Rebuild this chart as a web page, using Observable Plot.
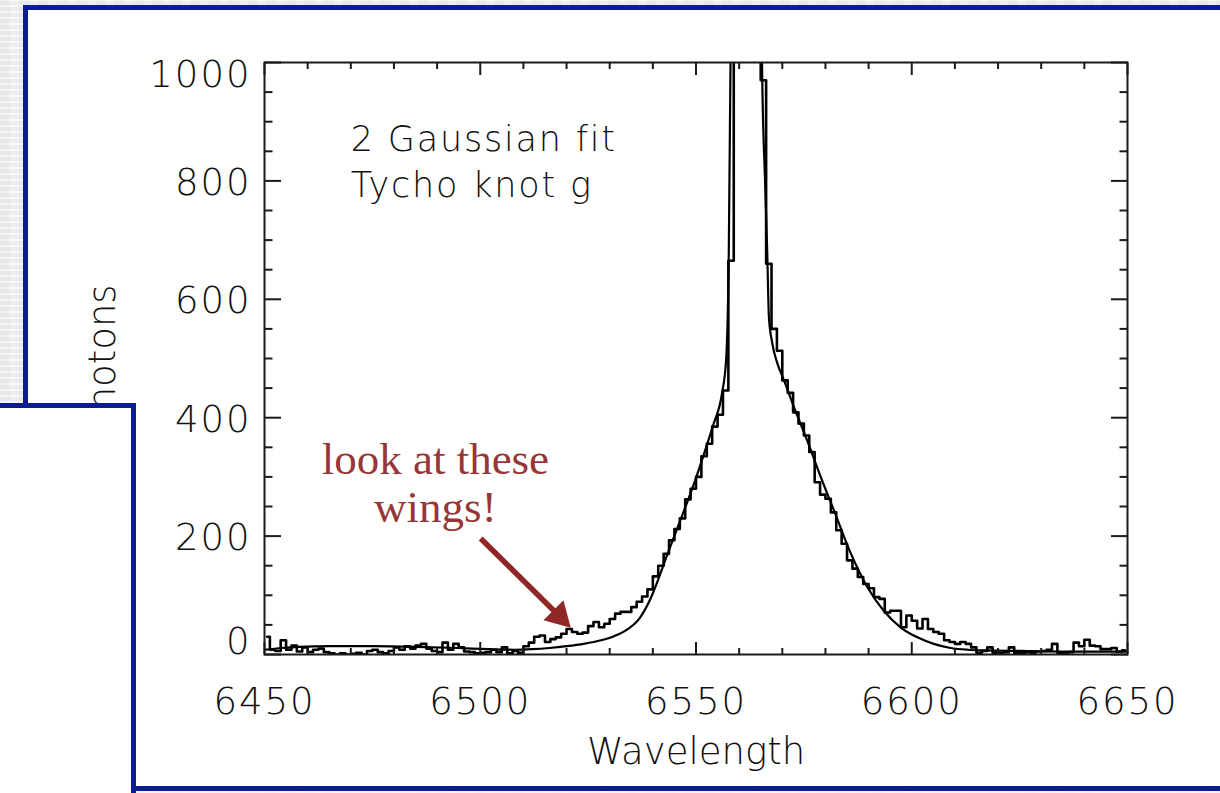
<!DOCTYPE html>
<html>
<head>
<meta charset="utf-8">
<script src="https://cdn.jsdelivr.net/npm/d3@7"></script>
<script src="https://cdn.jsdelivr.net/npm/@observablehq/plot@0.6"></script>
<style>
html, body { margin: 0; padding: 0; }
body {
  width: 1220px; height: 793px; overflow: hidden; position: relative;
  background-color: #ededed;
  background-image:
    repeating-linear-gradient(0deg, rgba(255,255,255,0.55) 0 2px, rgba(255,255,255,0) 2px 6px),
    repeating-linear-gradient(90deg, rgba(0,0,0,0.025) 0 11px, rgba(255,255,255,0.08) 11px 19px);
}
#box1 { position: absolute; left: 23px; top: 5px; width: 1230px; height: 776px; background: #fff; border: 5px solid #0c1c92; }
#box2 { position: absolute; left: -10px; top: 403px; width: 136px; height: 420px; background: #fff; border: 5px solid #0c1c92; z-index: 3; }
#chart { position: absolute; left: 0; top: 0; z-index: 2; }
#chart svg g[font-size="35"] text { letter-spacing: 1.8px; }
#chart svg g[aria-label="x-axis tick label"] text,
#chart svg g[aria-label="y-axis tick label"] text { letter-spacing: 2px; }
</style>
</head>
<body>
<div id="box1"></div>
<div id="chart"></div>
<div id="box2"></div>
<script>
// ---- data ----
const binStart = 6450;      // Å, left edge of first bin
const binWidth = 1.25;      // Å
const counts = [
  30, 8, 6, 24, 8, 15, 5, 12, 4, 8,
  10, 4, 2, 0, 2, 0, 1, 3, 0, 6,
  8, 4, 2, 6, 12, 8, 14, 10, 15, 18,
  10, 6, 4, 20, 8, 18, 12, 5, 4, 2,
  3, 4, 8, 4, 12, 2, 6, 3, 14, 20,
  30, 32, 21, 26, 29, 35, 43, 38, 35, 37,
  48, 55, 46, 52, 60, 69, 72, 72, 80, 89,
  98, 110, 132, 150, 170, 193, 212, 230, 262, 280,
  300, 335, 356, 385, 405, 446, 665, 2500, 3500, 3800,
  3000, 2000, 970, 660, 550, 513, 463, 442, 409, 390,
  370, 342, 291, 270, 263, 240, 210, 187, 159, 145,
  131, 119, 112, 97, 94, 71, 74, 74, 46, 66,
  57, 44, 60, 43, 38, 35, 24, 21, 18, 21,
  18, 12, 3, 6, 12, 3, 2, 4, 12, 3,
  2, 4, 3, 5, 6, 8, 18, 3, 2, 4,
  20, 14, 25, 15, 14, 9, 9, 11, 5, 7
];
const fitWave = [6450,6454,6458,6465,6475,6485,6495,6502,6508,6512,
  6516,6520,6524,6528,6531,6534,6537,6539.5,6541,6543.3,
  6545.6,6548,6550,6552,6554,6556,6557,6557.6,6558,6558.5,
  6560,6562,6564,6565.3,6566,6566.5,6566.9,6567.7,6568.9,6570.4,
  6572.7,6575.8,6578.9,6582,6585.8,6589.7,6593.5,6597.4,6601.3,6605.1,
  6609,6613,6617,6625,6635,6650];
const fitPhotons = [8,11,13,14,14,13,11,9,8,9,
  11,14,18,24,31,42,62,95,122,168,
  212,258,298,342,388,440,500,680,1000,1600,
  2800,3200,2600,1000,800,682,570,525,491,463,
  418,361,300,243,172,114,74,46,29,18,
  11,8,7,6,5,5];
const xMajor = [6450, 6500, 6550, 6600, 6650];
const xMinor = [6460,6470,6480,6490,6510,6520,6530,6540,6560,6570,6580,6590,6610,6620,6630,6640];
const yMajor = [0, 200, 400, 600, 800, 1000];
const yMinor = [50,100,150,250,300,350,450,500,550,650,700,750,850,900,950];
const xTitle = "Wavelength";
const yTitle = "Photons";
const noteText = "2 Gaussian fit\nTycho knot g";
const wingText = "look at these\nwings!";

const hist = counts.map((c, i) => ({wave: binStart + binWidth * (i + 0.5), photons: c}));
const fit = fitWave.map((w, i) => ({wave: w, photons: fitPhotons[i]}));

const ink = "#1a1a1a";
const red = "#8f2727";
const noLab = {label: null, tickFormat: () => ""};

const chart = Plot.plot({
  width: 1220, height: 793,
  marginLeft: 264, marginRight: 93, marginTop: 62, marginBottom: 139,
  x: {domain: [6450, 6650]},
  y: {domain: [0, 1000]},
  style: {background: "transparent", fontFamily: "'DejaVu Sans', sans-serif", fontSize: "37px", fontWeight: "200", color: "#111", overflow: "visible"},
  marks: [
    Plot.line(hist, {x: "wave", y: "photons", curve: "step", stroke: "#000", strokeWidth: 2.6, clip: true}),
    Plot.line(fit, {x: "wave", y: "photons", curve: "monotone-x", stroke: "#000", strokeWidth: 2.2, clip: true}),
    Plot.frame({stroke: ink, strokeWidth: 2}),
    // inward ticks on all four sides
    Plot.axisX(xMajor, {anchor: "bottom", tickSize: -12, strokeWidth: 2, stroke: ink, ...noLab}),
    Plot.axisX(xMinor, {anchor: "bottom", tickSize: -6, strokeWidth: 2, stroke: ink, ...noLab}),
    Plot.axisX(xMajor, {anchor: "top", tickSize: -12, strokeWidth: 2, stroke: ink, ...noLab}),
    Plot.axisX(xMinor, {anchor: "top", tickSize: -6, strokeWidth: 2, stroke: ink, ...noLab}),
    Plot.axisY(yMajor, {anchor: "left", tickSize: -17, strokeWidth: 2, stroke: ink, ...noLab}),
    Plot.axisY(yMinor, {anchor: "left", tickSize: -8.5, strokeWidth: 2, stroke: ink, ...noLab}),
    Plot.axisY(yMajor, {anchor: "right", tickSize: -17, strokeWidth: 2, stroke: ink, ...noLab}),
    Plot.axisY(yMinor, {anchor: "right", tickSize: -8.5, strokeWidth: 2, stroke: ink, ...noLab}),
    // tick labels
    Plot.axisX(xMajor, {anchor: "bottom", tickSize: 0, tickPadding: 33, label: null, tickFormat: d => String(d), fill: "#111"}),
    Plot.axisY(yMajor.slice(1, 5), {anchor: "left", tickSize: 0, tickPadding: 13, label: null, tickFormat: d => String(d), fill: "#111", dy: 2}),
    Plot.axisY([yMajor[0]], {anchor: "left", tickSize: 0, tickPadding: 13, label: null, tickFormat: d => String(d), fill: "#111", dy: -12}),
    Plot.axisY([yMajor[5]], {anchor: "left", tickSize: 0, tickPadding: 13, label: null, tickFormat: d => String(d), fill: "#111", dy: 13}),
    // axis titles
    Plot.text([xTitle], {frameAnchor: "bottom", dy: 109, lineAnchor: "bottom", textAnchor: "middle", text: d => d, fill: "#111"}),
    Plot.text([yTitle], {frameAnchor: "left", dx: -161, rotate: -90, textAnchor: "middle", lineAnchor: "middle", text: d => d, fill: "#111"}),
    // in-plot note
    Plot.text([noteText], {x: 6470, y: 773.6, text: d => d, textAnchor: "start", lineAnchor: "bottom", lineHeight: 1.29, fontSize: 35, fill: "#111"}),
    // red annotation
    Plot.text([wingText], {x: 6489.6, y: 223.5, text: d => d, textAnchor: "middle", lineAnchor: "bottom", lineHeight: 1.08,
      fontFamily: "'Liberation Serif', serif", fontSize: 45, fontWeight: "normal", fill: "#973636"}),
    Plot.link([0], {x1: 6500.1, y1: 196, x2: 6518.3, y2: 64.9, stroke: red, strokeWidth: 5.5}),
    Plot.dot([0], {x: 6518.3, y: 64.9, symbol: "triangle", r: 10.5, rotate: 135, fill: red, stroke: "none"})
  ]
});
document.getElementById("chart").appendChild(chart);
</script>
</body>
</html>
